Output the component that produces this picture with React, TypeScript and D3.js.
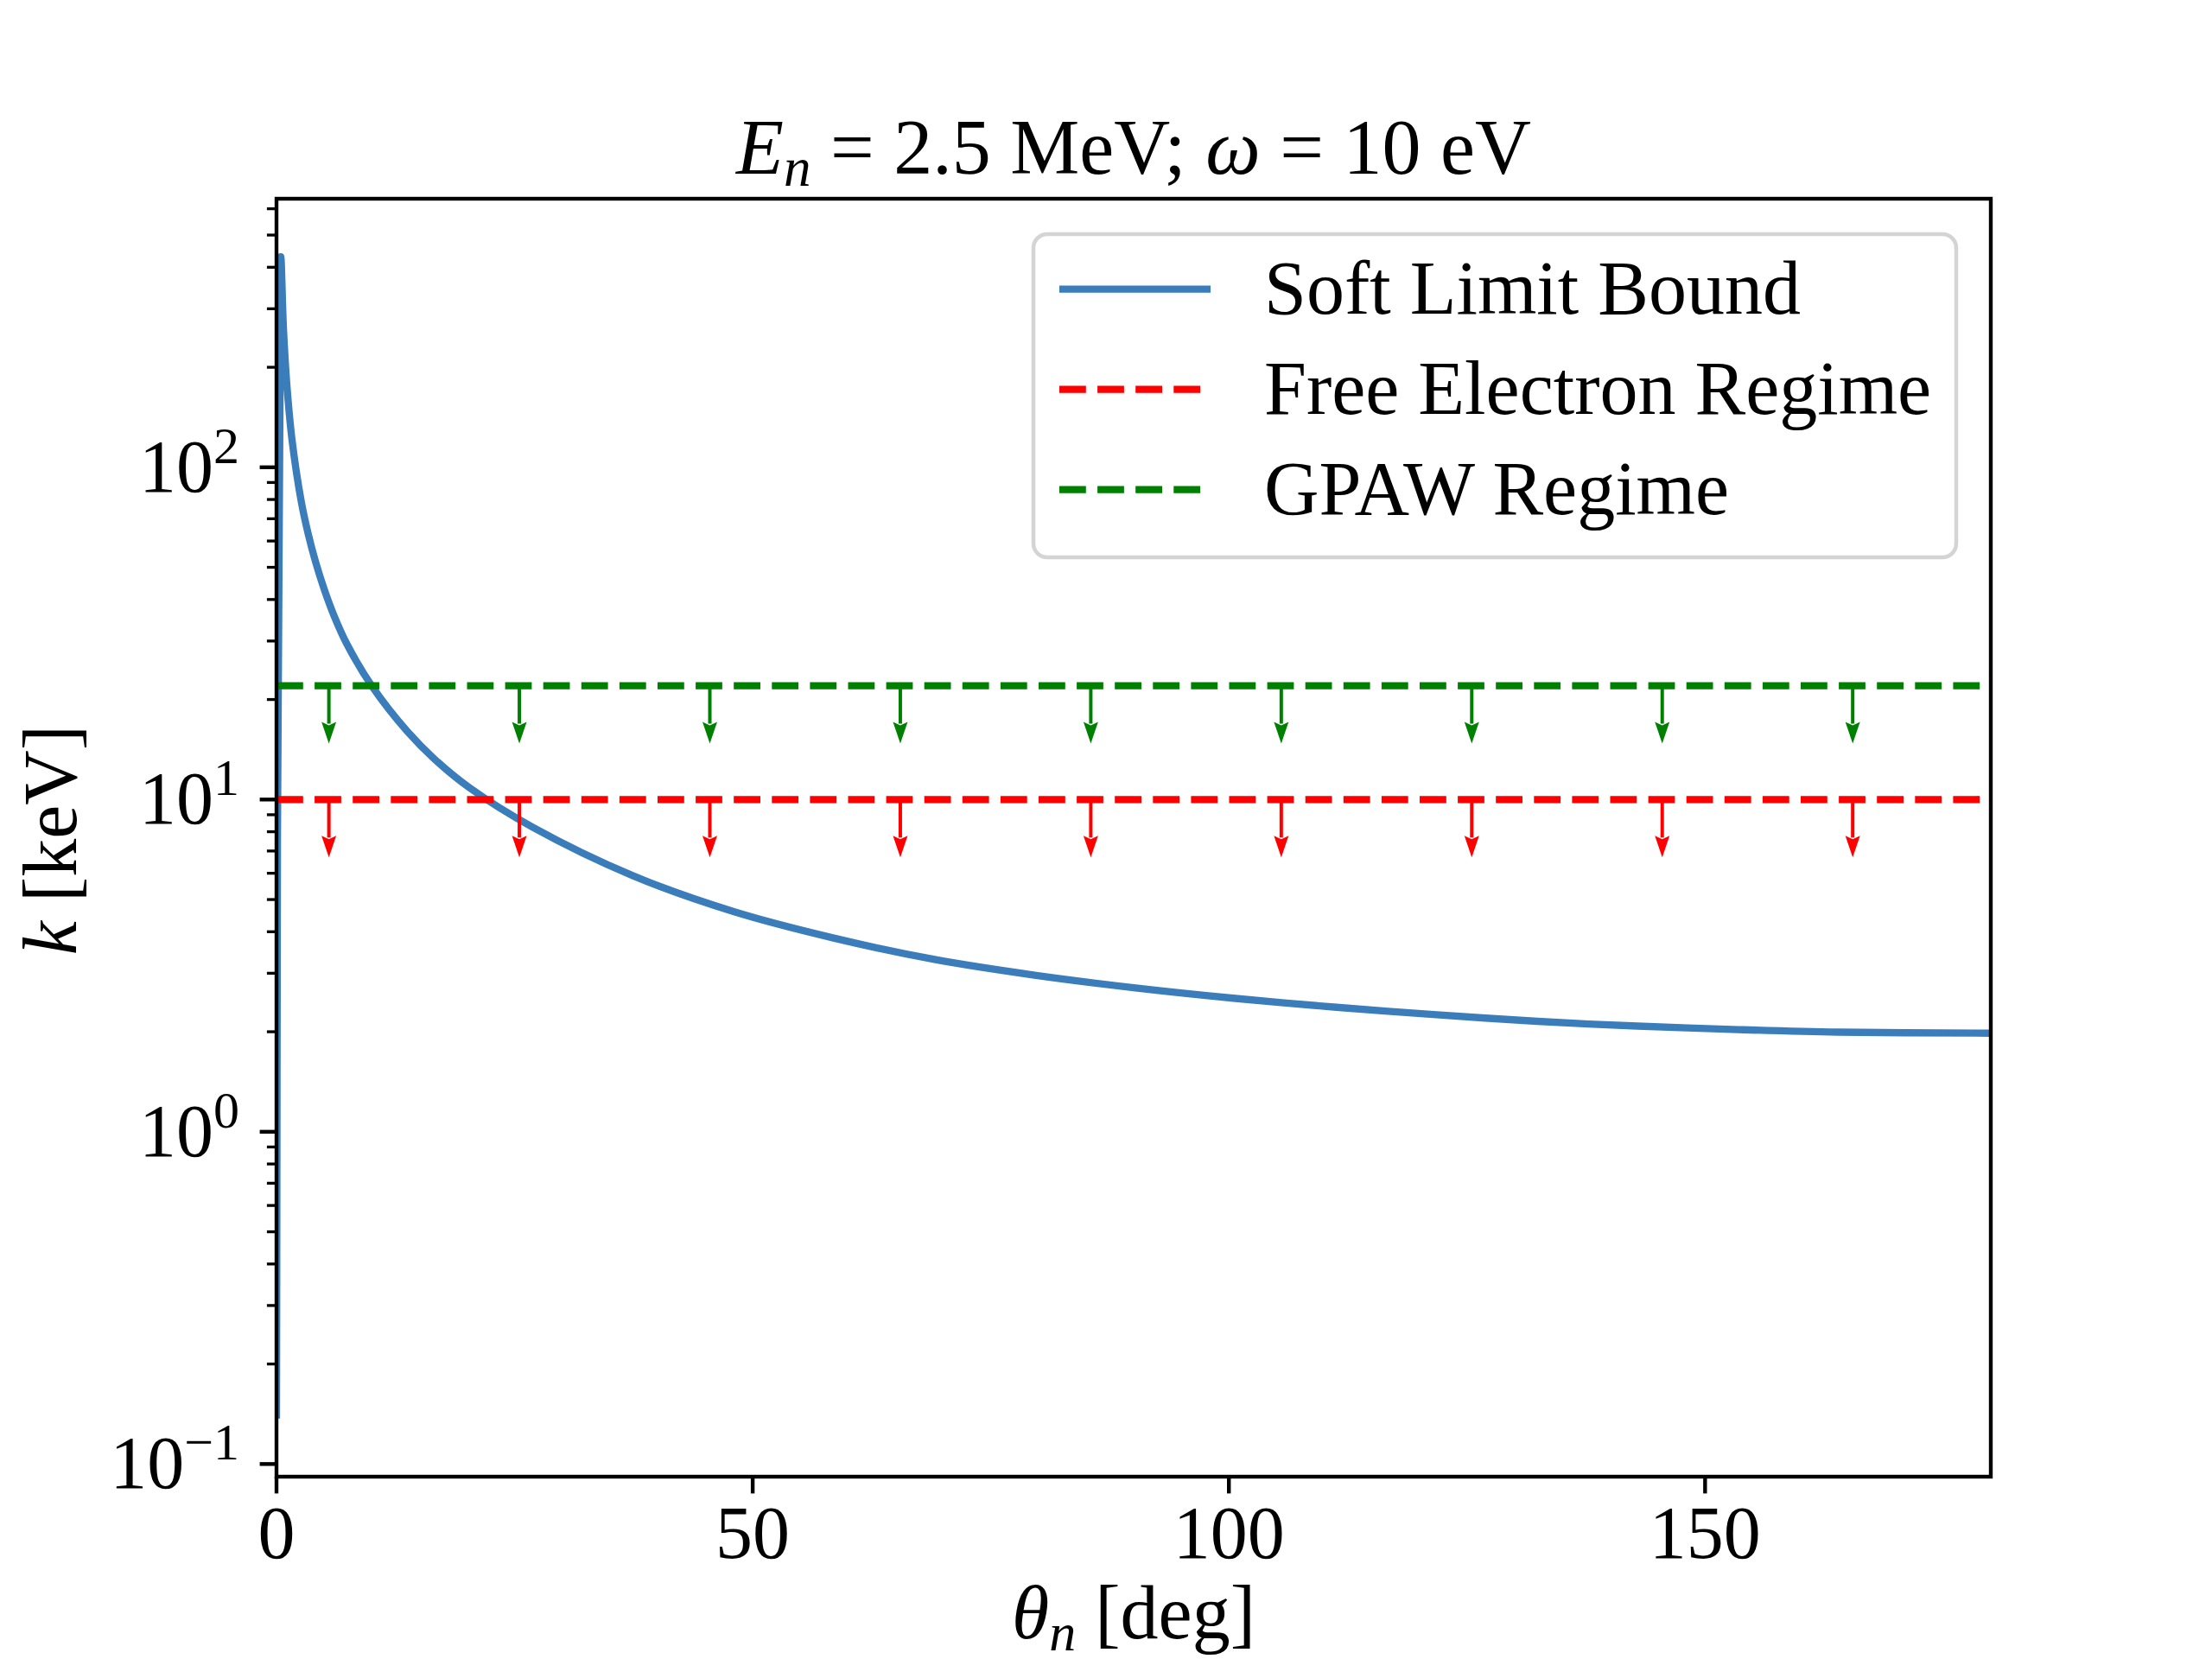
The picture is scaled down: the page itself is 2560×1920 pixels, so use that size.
import React from "react";
import * as d3 from "d3";

// ---- data ----
const thetaDeg = [0, 0.45, 0.73, 1.09, 1.63, 2.63, 3.33, 4.08, 4.99, 6.05, 7.41, 10.04, 13.76, 16.63, 20.26, 26.9, 37.4, 48.0, 58.5, 69.1, 79.6, 90.2, 100.7, 111.3, 121.8, 132.4, 142.9, 153.5, 164.0, 180];
const softLimitKeV = [0.137, 430, 262, 177, 121, 78, 63, 52.2, 43.1, 35.7, 29.3, 21.9, 16.0, 13.2, 10.85, 8.25, 5.9, 4.6, 3.83, 3.3, 2.96, 2.71, 2.52, 2.37, 2.25, 2.15, 2.08, 2.03, 1.995, 1.98];
const freeElectronKeV = 10;
const gpawKeV = 22;
const arrowThetas = [5.5, 25.5, 45.5, 65.5, 85.5, 105.5, 125.5, 145.5, 165.5];
const arrowFactor = 0.67;
const xTicks = [0, 50, 100, 150];
const yDecades = [-1, 0, 1, 2];
const legendLabels = ["Soft Limit Bound", "Free Electron Regime", "GPAW Regime"];

const W = 2560, H = 1920;
const M = { left: 320, right: 2304, top: 230, bottom: 1709 };
const BLUE = "#3a7dba", RED = "#ff0000", GREEN = "#008000";
const FONT = "'Liberation Serif', 'Times New Roman', serif";
const LW = 8.33;
const DASH = "30.8 13.3";

export default function App() {
  const x = d3.scaleLinear().domain([0, 180]).range([M.left, M.right]);
  const lmin = Math.log10(d3.min(softLimitKeV)!), lmax = Math.log10(d3.max(softLimitKeV)!);
  const pad = 0.05 * (lmax - lmin);
  const y = d3.scaleLog().domain([10 ** (lmin - pad), 10 ** (lmax + pad)]).range([M.bottom, M.top]);
  const [d0, d1] = y.domain();

  const pts = thetaDeg.map((t, i) => [x(t), y(softLimitKeV[i])] as [number, number]);
  const linePath = d3.line().curve(d3.curveCatmullRom.alpha(0.5))(pts) || "";

  const minor: number[] = [];
  for (let e = -2; e <= 3; e++) for (let m = 2; m <= 9; m++) {
    const v = m * 10 ** e;
    if (v >= d0 && v <= d1) minor.push(v);
  }

  const arrow = (t: number, v: number, color: string, key: string) => {
    const cx = x(t), y0 = y(v), y1 = y(v * arrowFactor);
    const hl = 25, hw = 8.5;
    return (
      <g key={key}>
        <line x1={cx} x2={cx} y1={y0} y2={y1 - hl + 2} stroke={color} strokeWidth={4} />
        <path d={`M${cx - hw},${y1 - hl} L${cx},${y1 - hl + 4} L${cx + hw},${y1 - hl} L${cx},${y1} Z`} fill={color} />
      </g>
    );
  };

  const lg = { x: 1196, y: 271, w: 1068, h: 374 };
  const rowY = [334.7, 450.7, 566.7];
  const hx0 = 1226, hx1 = 1401, tx = 1463;
  const styles = [
    { color: BLUE, dash: undefined as string | undefined },
    { color: RED, dash: DASH },
    { color: GREEN, dash: DASH },
  ];

  return (
    <svg width={W} height={H} style={{ position: "absolute", left: 0, top: 0, background: "#fff" }} fontFamily={FONT}>
      <rect x={0} y={0} width={W} height={H} fill="#fff" />
      <defs>
        <clipPath id="plotclip">
          <rect x={M.left} y={M.top} width={M.right - M.left} height={M.bottom - M.top} />
        </clipPath>
      </defs>

      <g clipPath="url(#plotclip)">
        <path d={linePath} fill="none" stroke={BLUE} strokeWidth={LW} strokeLinejoin="round" />
        <line x1={x(0)} x2={x(180)} y1={y(freeElectronKeV)} y2={y(freeElectronKeV)} stroke={RED} strokeWidth={LW} strokeDasharray={DASH} />
        <line x1={x(0)} x2={x(180)} y1={y(gpawKeV)} y2={y(gpawKeV)} stroke={GREEN} strokeWidth={LW} strokeDasharray={DASH} />
        {arrowThetas.map((t, i) => arrow(t, freeElectronKeV, RED, "r" + i))}
        {arrowThetas.map((t, i) => arrow(t, gpawKeV, GREEN, "g" + i))}
      </g>

      {/* spines */}
      <rect x={M.left} y={M.top} width={M.right - M.left} height={M.bottom - M.top} fill="none" stroke="#000" strokeWidth={4.4} />

      {/* x ticks */}
      {xTicks.map((t) => (
        <g key={"xt" + t}>
          <line x1={x(t)} x2={x(t)} y1={M.bottom} y2={M.bottom + 19.4} stroke="#000" strokeWidth={4.4} />
          <text x={x(t)} y={1803} fontSize={86} textAnchor="middle">{t}</text>
        </g>
      ))}

      {/* y ticks */}
      {minor.map((v, i) => (
        <line key={"ym" + i} x1={M.left - 11.1} x2={M.left} y1={y(v)} y2={y(v)} stroke="#000" strokeWidth={3.3} />
      ))}
      {yDecades.map((e) => (
        <g key={"yt" + e}>
          <line x1={M.left - 19.4} x2={M.left} y1={y(10 ** e)} y2={y(10 ** e)} stroke="#000" strokeWidth={4.4} />
          <text x={277} y={y(10 ** e) + 28} fontSize={86} textAnchor="end">
            10<tspan fontSize={60} dy={-33}>{e < 0 ? "\u2212" + Math.abs(e) : String(e)}</tspan>
          </text>
        </g>
      ))}

      {/* title */}
      <text x={(M.left + M.right) / 2} y={201} fontSize={90} textAnchor="middle">
        <tspan fontStyle="italic">E</tspan>
        <tspan fontStyle="italic" fontSize={63} dy={14}>n</tspan>
        <tspan dy={-14}>{" = 2.5 MeV; "}</tspan>
        <tspan fontStyle="italic">ω</tspan>
        <tspan>{" = 10 eV"}</tspan>
      </text>

      {/* x label */}
      <text x={(M.left + M.right) / 2} y={1896} fontSize={88} textAnchor="middle">
        <tspan fontStyle="italic">θ</tspan>
        <tspan fontStyle="italic" fontSize={62} dy={14}>n</tspan>
        <tspan dy={-14}>{" [deg]"}</tspan>
      </text>

      {/* y label */}
      <text transform={`translate(88,972) rotate(-90)`} fontSize={88} textAnchor="middle">
        <tspan fontStyle="italic">k</tspan>
        <tspan>{" [keV]"}</tspan>
      </text>

      {/* legend */}
      <rect x={lg.x} y={lg.y} width={lg.w} height={lg.h} rx={16} ry={16} fill="#fff" fillOpacity={0.8} stroke="#d4d4d4" strokeWidth={4.5} />
      {legendLabels.map((lab, i) => (
        <g key={"lg" + i}>
          <line x1={hx0} x2={hx1} y1={rowY[i]} y2={rowY[i]} stroke={styles[i].color} strokeWidth={LW} strokeDasharray={styles[i].dash} />
          <text x={tx} y={rowY[i] + 28} fontSize={88}>{lab}</text>
        </g>
      ))}
    </svg>
  );
}
